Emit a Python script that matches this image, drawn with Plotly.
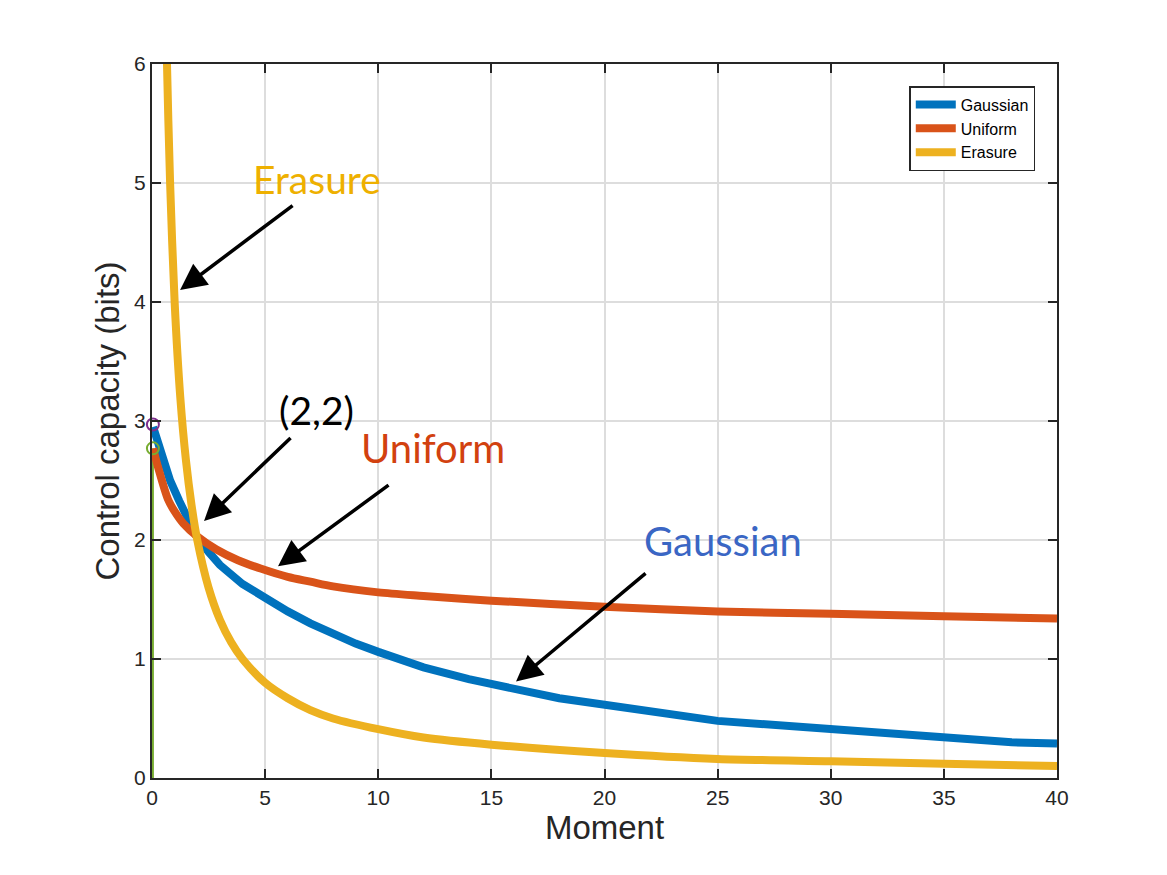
import plotly.graph_objects as go

# Data
gauss_x = [0.05, 0.13, 0.4, 0.8, 1.2, 1.53, 1.97, 2.5, 3, 4, 5, 6, 7, 8, 9, 10, 12, 14, 16, 18, 25, 38, 40]
gauss_y = [2.95, 2.90, 2.72, 2.50, 2.33, 2.19, 2.03, 1.90, 1.79, 1.63, 1.51, 1.40, 1.30, 1.21, 1.13, 1.06, 0.93, 0.83, 0.75, 0.67, 0.48, 0.30, 0.29]

unif_x = [0.05, 0.27, 0.71, 1.0, 1.38, 2, 2.85, 3.8, 4.8, 6, 7, 8, 10, 12, 15, 20, 25, 30, 35, 40]
unif_y = [2.77, 2.61, 2.34, 2.24, 2.14, 2.03, 1.92, 1.83, 1.76, 1.69, 1.65, 1.61, 1.56, 1.53, 1.49, 1.44, 1.40, 1.38, 1.36, 1.34]

eras_x = [0.6, 0.65, 0.8, 1.0, 1.25, 1.5, 1.75, 2, 2.5, 3, 3.5, 4, 5, 6, 7, 8, 10, 12, 15, 20, 25, 30, 35, 40]
eras_y = [6.7, 6.1, 5.0, 4.0, 3.2, 2.67, 2.29, 2.0, 1.6, 1.33, 1.14, 1.0, 0.80, 0.67, 0.57, 0.50, 0.41, 0.34, 0.28, 0.21, 0.16, 0.14, 0.12, 0.10]

marker_x = [0.04, 0.04]
marker_y = [2.97, 2.77]

x_ticks = [0, 5, 10, 15, 20, 25, 30, 35, 40]
y_ticks = [0, 1, 2, 3, 4, 5, 6]

fig = go.Figure()

fig.add_trace(go.Scatter(x=[marker_x[1], marker_x[1]], y=[0, marker_y[1]], mode="lines",
                         line=dict(color="#77AC30", width=2), showlegend=False, hoverinfo="skip",
                         cliponaxis=False))
fig.add_trace(go.Scatter(x=gauss_x, y=gauss_y, mode="lines", name="Gaussian",
                         line=dict(color="#0072BD", width=8)))
fig.add_trace(go.Scatter(x=unif_x, y=unif_y, mode="lines", name="Uniform",
                         line=dict(color="#D95319", width=8, shape="spline", smoothing=0.8)))
fig.add_trace(go.Scatter(x=eras_x, y=eras_y, mode="lines", name="Erasure",
                         line=dict(color="#EDB120", width=8, shape="spline", smoothing=0.8)))
fig.add_trace(go.Scatter(x=[marker_x[0]], y=[marker_y[0]], mode="markers", showlegend=False,
                         cliponaxis=False,
                         marker=dict(symbol="circle-open", size=12, color="#7E2F8E", line=dict(width=2))))
fig.add_trace(go.Scatter(x=[marker_x[1]], y=[marker_y[1]], mode="markers", showlegend=False,
                         cliponaxis=False,
                         marker=dict(symbol="circle-open", size=12, color="#77AC30", line=dict(width=2))))

label_font = "Lato, Open Sans, sans-serif"
texts = [
    ("Erasure", 7.29, 5.03, "#EEB000", 39),
    ("(2,2)", 7.29, 3.09, "black", 39),
    ("Uniform", 12.42, 2.77, "#D2410F", 40),
    ("Gaussian", 25.24, 1.99, "#3A66C4", 40),
]
for t, x, y, c, s in texts:
    fig.add_annotation(x=x, y=y, text=t, showarrow=False, xref="x", yref="y",
                       font=dict(family=label_font, size=s, color=c))

arrows = [
    (6.28, 4.82, 1.24, 4.10),
    (6.19, 2.87, 2.30, 2.16),
    (10.52, 2.47, 5.57, 1.78),
    (21.88, 1.73, 16.09, 0.81),
]
for tx, ty, hx, hy in arrows:
    fig.add_annotation(x=hx, y=hy, ax=tx, ay=ty, xref="x", yref="y", axref="x", ayref="y",
                       text="", showarrow=True, arrowhead=2, arrowsize=1.5, arrowwidth=3.5,
                       arrowcolor="black")

tick_font = dict(family="Liberation Sans, Arial, sans-serif", size=21, color="#262626")
title_font = dict(family="Liberation Sans, Arial, sans-serif", size=33, color="#262626")
axis_common = dict(showline=True, linecolor="#262626", linewidth=2, mirror="ticks",
                   ticks="inside", ticklen=9, tickwidth=2, tickcolor="#262626",
                   showgrid=True, gridcolor="#DDDDDD", gridwidth=1.5, zeroline=False,
                   tickfont=tick_font)

fig.update_xaxes(range=[0, 40], tickvals=x_ticks,
                 title=dict(text="Moment", font=title_font, standoff=0),
                 **axis_common)
fig.update_yaxes(range=[0, 6], tickvals=y_ticks,
                 title=dict(text="Control capacity (bits)", font=title_font, standoff=5),
                 **axis_common)

fig.update_layout(
    width=1167, height=875,
    margin=dict(l=152, r=110, t=64, b=97),
    paper_bgcolor="white", plot_bgcolor="white",
    legend=dict(x=0.976, y=0.969, xanchor="right", yanchor="top",
                bgcolor="white", bordercolor="#262626", borderwidth=1.5,
                font=dict(family="Liberation Sans, Arial, sans-serif", size=16, color="black"),
                tracegroupgap=0, itemwidth=40),
    showlegend=True,
)

fig.write_html("out.html")
